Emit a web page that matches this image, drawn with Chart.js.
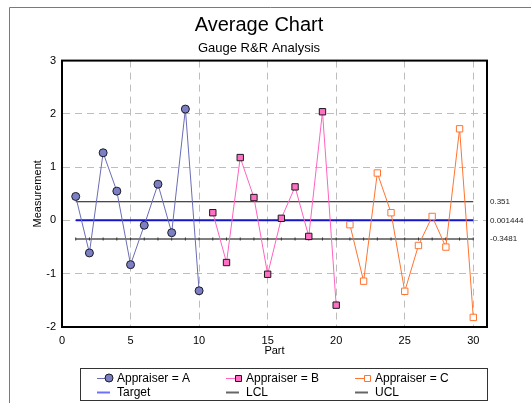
<!DOCTYPE html>
<html>
<head>
<meta charset="utf-8">
<script src="https://cdn.jsdelivr.net/npm/chart.js@4.4.1/dist/chart.umd.min.js"></script>
<style>
  html, body { margin: 0; padding: 0; background: #fff; }
  #wrap { position: relative; width: 531px; height: 403px; }
</style>
</head>
<body>
<div id="wrap"><canvas id="avgChart" width="531" height="403"></canvas></div>
<script>
// Data
const partsA = [1, 2, 3, 4, 5, 6, 7, 8, 9, 10];
const valuesA = [0.45, -0.61, 1.27, 0.55, -0.83, -0.09, 0.68, -0.23, 2.09, -1.32];
const partsB = [11, 12, 13, 14, 15, 16, 17, 18, 19, 20];
const valuesB = [0.145, -0.79, 1.18, 0.43, -1.01, 0.04, 0.63, -0.30, 2.04, -1.59];
const partsC = [21, 22, 23, 24, 25, 26, 27, 28, 29, 30];
const valuesC = [-0.08, -1.14, 0.89, 0.145, -1.33, -0.47, 0.075, -0.50, 1.72, -1.82];
const allParts = partsA.concat(partsB, partsC);
const targetValue = 0.001444;
const lclValue = -0.3481;
const uclValue = 0.351;
const limitLabels = ['0.351', '0.001444', '-0.3481'];
const xTicks = [0, 5, 10, 15, 20, 25, 30];
const yTicks = [-2, -1, 0, 1, 2, 3];

const FONT = 'Arial, "Liberation Sans", sans-serif';

function pts(xs, ys) {
    return xs.map((x, i) => ({ x: x, y: ys[i] }));
}
function flat(xs, v) {
    return xs.map(x => ({ x: x, y: v }));
}

// Frame, plot border, right-hand limit labels and the boxed legend
const decorPlugin = {
    id: 'decor',
    afterDraw(chart) {
        const ctx = chart.ctx;
        const a = chart.chartArea;
        const ys = chart.scales.y;
        ctx.save();
        // outer gray frame
        ctx.strokeStyle = '#7a7a7a';
        ctx.lineWidth = 1;
        ctx.beginPath();
        ctx.moveTo(9.5, 403);
        ctx.lineTo(9.5, 7.5);
        ctx.lineTo(531, 7.5);
        ctx.stroke();
        // plot border
        ctx.strokeStyle = '#000';
        ctx.lineWidth = 2;
        ctx.strokeRect(a.left, a.top, a.right - a.left, a.bottom - a.top);
        // limit labels
        ctx.fillStyle = '#222';
        ctx.font = '8px ' + FONT;
        ctx.textBaseline = 'middle';
        ctx.textAlign = 'left';
        [uclValue, targetValue, lclValue].forEach((v, i) => {
            ctx.fillText(limitLabels[i], a.right + 3, ys.getPixelForValue(v));
        });
        // legend
        const lx = 80, ly = 368, lw = 407, lh = 32;
        ctx.strokeStyle = '#333';
        ctx.lineWidth = 1;
        ctx.strokeRect(lx + 0.5, ly + 0.5, lw, lh);
        const cols = [97, 226, 355];
        const rows = [ly + 10, ly + 24];
        ctx.font = '12px ' + FONT;
        chart.data.datasets.forEach((ds, i) => {
            const cx = cols[i % 3];
            const cy = rows[Math.floor(i / 3)];
            ctx.strokeStyle = ds.legendColor || ds.borderColor;
            ctx.lineWidth = ds.legendWidth || 1;
            ctx.beginPath();
            ctx.moveTo(cx, cy + 0.5);
            ctx.lineTo(cx + 13, cy + 0.5);
            ctx.stroke();
            if (ds.legendMarker) {
                ctx.fillStyle = ds.pointBackgroundColor;
                ctx.strokeStyle = ds.pointBorderColor;
                ctx.lineWidth = 1;
                ctx.beginPath();
                if (ds.pointStyle === 'circle') {
                    ctx.arc(cx + 12, cy, 4, 0, Math.PI * 2);
                } else {
                    ctx.rect(cx + 9.5, cy - 2.5, 6, 6);
                }
                ctx.fill();
                ctx.stroke();
            }
            ctx.fillStyle = '#000';
            ctx.fillText(ds.label, cx + 20, cy + 1);
        });
        ctx.restore();
    }
};

const ctx = document.getElementById('avgChart').getContext('2d');
new Chart(ctx, {
    type: 'line',
    data: {
        datasets: [
            {
                label: 'Appraiser = A', data: pts(partsA, valuesA),
                borderColor: '#6a6db5', borderWidth: 1,
                pointStyle: 'circle', pointRadius: 4,
                pointBackgroundColor: '#7c80c2', pointBorderColor: '#1a1a2a', pointBorderWidth: 1,
                legendMarker: true, order: 1
            },
            {
                label: 'Appraiser = B', data: pts(partsB, valuesB),
                borderColor: '#ff63c0', borderWidth: 1,
                pointStyle: 'rect', pointRadius: 4.5,
                pointBackgroundColor: '#ff6fc4', pointBorderColor: '#1a1a1a', pointBorderWidth: 1,
                legendMarker: true, order: 1
            },
            {
                label: 'Appraiser = C', data: pts(partsC, valuesC),
                borderColor: '#ff7430', borderWidth: 1,
                pointStyle: 'rect', pointRadius: 4.5,
                pointBackgroundColor: '#ffffff', pointBorderColor: '#ff7430', pointBorderWidth: 1,
                legendMarker: true, order: 1
            },
            {
                label: 'Target', data: flat([allParts[0], allParts[allParts.length - 1]], targetValue),
                borderColor: '#1515c8', borderWidth: 2, pointRadius: 0,
                legendColor: '#7070ff', legendWidth: 2, order: 2
            },
            {
                label: 'LCL', data: flat(allParts, lclValue),
                borderColor: '#555', borderWidth: 1.5,
                pointStyle: 'line', rotation: 90, pointRadius: 1.5,
                pointBorderColor: '#333', pointBorderWidth: 1,
                legendColor: '#666', legendWidth: 2, order: 3
            },
            {
                label: 'UCL', data: flat([allParts[0], allParts[allParts.length - 1]], uclValue),
                borderColor: '#111', borderWidth: 1, pointRadius: 0,
                legendColor: '#666', legendWidth: 2, order: 3
            }
        ]
    },
    options: {
        responsive: false,
        animation: false,
        layout: { padding: { left: 31, right: 44, top: 0, bottom: 45 } },
        plugins: {
            legend: { display: false },
            tooltip: { enabled: false },
            title: {
                display: true, text: 'Average Chart', color: '#000',
                font: { family: FONT, size: 20, weight: 'normal' },
                padding: { top: 13, bottom: 0 }
            },
            subtitle: {
                display: true, text: 'Gauge R&R Analysis', color: '#000',
                font: { family: FONT, size: 13, weight: 'normal' },
                padding: { top: 4, bottom: 4 }
            }
        },
        scales: {
            x: {
                type: 'linear', min: 0, max: 31,
                afterBuildTicks: s => { s.ticks = xTicks.map(v => ({ value: v })); },
                afterFit: s => { s.height = 31; },
                ticks: { color: '#000', font: { family: FONT, size: 11 }, padding: 7, maxRotation: 0 },
                grid: { color: '#bdbdbd', drawTicks: false, tickLength: 0 },
                border: { display: true, color: '#000', width: 2, dash: [7, 5] },
                title: {
                    display: true, text: 'Part', color: '#000',
                    font: { family: FONT, size: 11 }, padding: { top: 0, bottom: 0 }
                }
            },
            y: {
                min: -2, max: 3,
                afterBuildTicks: s => { s.ticks = yTicks.map(v => ({ value: v })); },
                afterFit: s => { s.width = 31; },
                ticks: { color: '#000', font: { family: FONT, size: 11 }, padding: 6 },
                grid: { color: '#bdbdbd', drawTicks: false, tickLength: 0 },
                border: { display: true, color: '#000', width: 2, dash: [7, 5] },
                title: {
                    display: true, text: 'Measurement', color: '#000',
                    font: { family: FONT, size: 11 }, padding: { top: 0, bottom: 0 }
                }
            }
        }
    },
    plugins: [decorPlugin]
});
</script>
</body>
</html>
